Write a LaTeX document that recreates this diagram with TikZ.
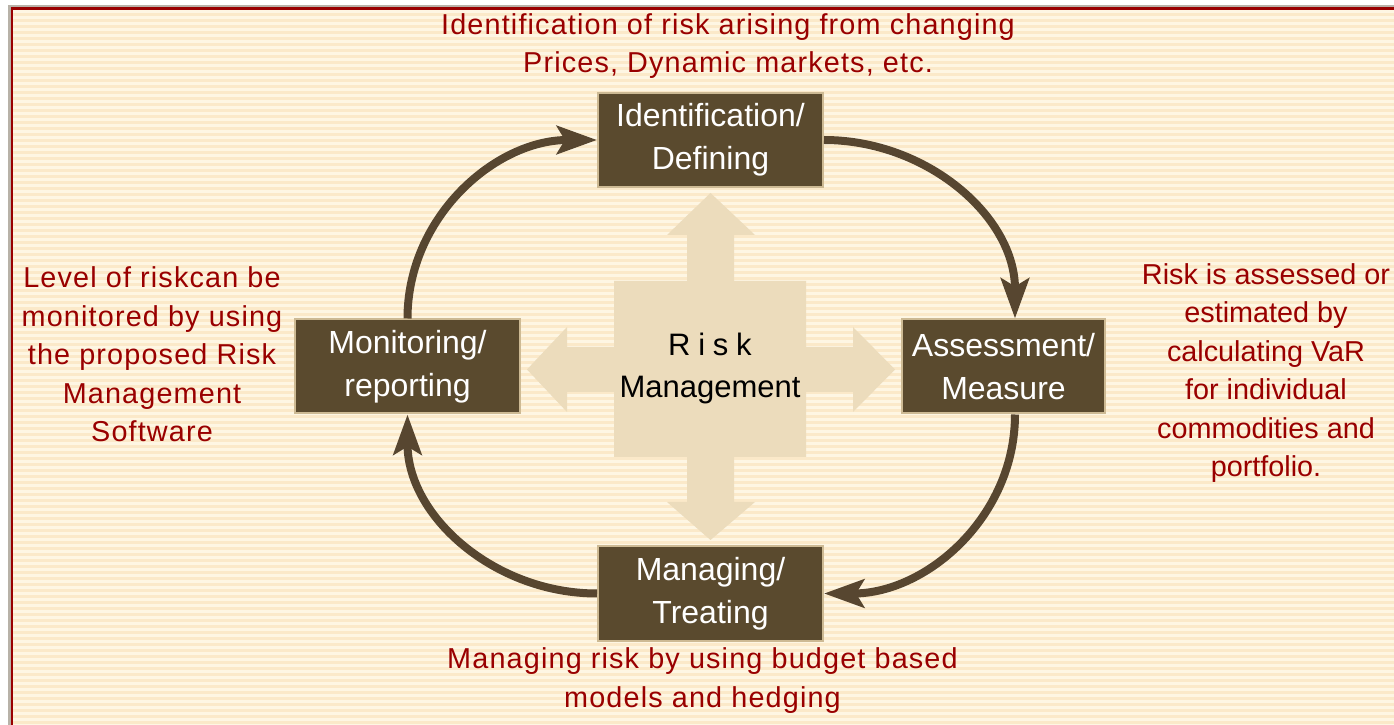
\documentclass[tikz,border=0pt]{standalone}
\usepackage{fontspec}
\setmainfont{Liberation Sans}
\usetikzlibrary{arrows.meta}

\definecolor{boxbrown}{HTML}{5A4A2E}
\definecolor{boxedge}{HTML}{CDBA94}
\definecolor{crossfill}{HTML}{ECDCBC}
\definecolor{notered}{HTML}{990000}
\definecolor{paper}{HTML}{FEF6E3}
\definecolor{stripe}{HTML}{FBE9C9}
\definecolor{loopbrown}{HTML}{574630}
\definecolor{framegray}{HTML}{B8B2A8}

\begin{document}
\begin{tikzpicture}[x=0.5pt, y=0.5pt,
    stage/.style={draw=boxedge, line width=1pt, fill=boxbrown, text=white, align=center,
        font=\fontsize{16}{21.5}\selectfont, minimum width=112.5pt, minimum height=47pt, inner sep=0pt},
    note/.style={text=notered, align=center, font=\fontsize{14.4}{19.2}\selectfont\addfontfeatures{LetterSpace=4}},
    loop arrow/.style={draw=loopbrown, line width=4pt, -{Stealth[length=20pt, width=14pt, inset=4pt]}}
 ]
\useasboundingbox (0,0) rectangle (1394,724);
% paper and frame
\fill[white] (0,0) rectangle (1394,724);
\fill[framegray] (8,-4) rectangle (1400,719);
\fill[notered] (11,-4) rectangle (1400,717);
\fill[paper] (13,-4) rectangle (1400,714);
\foreach \s in {0,6,...,708}
    \fill[stripe] (13,\s) rectangle (1400,\s+3);

% cross behind the hub
\fill[crossfill] (710.5,531) -- (755,489) -- (734,489) -- (734,443) -- (806,443) -- (806,377)
    -- (853,377) -- (853,397) -- (895,354.5) -- (853,312) -- (853,332) -- (806,332)
    -- (806,267) -- (734,267) -- (734,222) -- (755,222) -- (710.5,184) -- (667,222)
    -- (687,222) -- (687,267) -- (614,267) -- (614,332) -- (567,332) -- (567,312)
    -- (527,354.5) -- (567,397) -- (567,377) -- (614,377) -- (614,443) -- (687,443)
    -- (687,489) -- (667,489) -- cycle;
\node[align=center, font=\fontsize{15.5}{21}\selectfont] (hub) at (710,356)
    {{\addfontfeatures{LetterSpace=25}Risk}\\Management};

\node[stage] (ident) at (710.5,584) {Identification/\\Defining};
\node[stage, minimum width=101.5pt] (assess) at (1003.5,357.5) {Assessment/\\Measure};
\node[stage] (monitor) at (407.5,357.5) {Monitoring/\\reporting};
\node[stage] (manage) at (710.5,130.5) {Managing/\\Treating};

\draw[loop arrow] (ident.east) to[out=0,in=90] ([xshift=5.75pt]assess.north);
\draw[loop arrow] ([xshift=5.75pt]assess.south) to[out=-90,in=0] (manage.east);
\draw[loop arrow] (manage.west) to[out=180,in=-90] (monitor.south);
\draw[loop arrow] (monitor.north) to[out=90,in=180] (ident.west);

\node[note] (identnote) at (728,678) {Identification of risk arising from changing\\Prices, Dynamic markets, etc.};
\node[note] (monitornote) at (152,369.5) {Level of riskcan be\\monitored by using\\the proposed Risk\\Management\\Software};
\node[note, font=\fontsize{14.4}{19.2}\selectfont] (assessnote) at (1266,351) {Risk is assessed or\\estimated by\\calculating VaR\\for individual\\commodities and\\portfolio.};
\node[note] (managenote) at (702.5,43.5) {Managing risk by using budget based\\models and hedging};
\end{tikzpicture}
\end{document}
